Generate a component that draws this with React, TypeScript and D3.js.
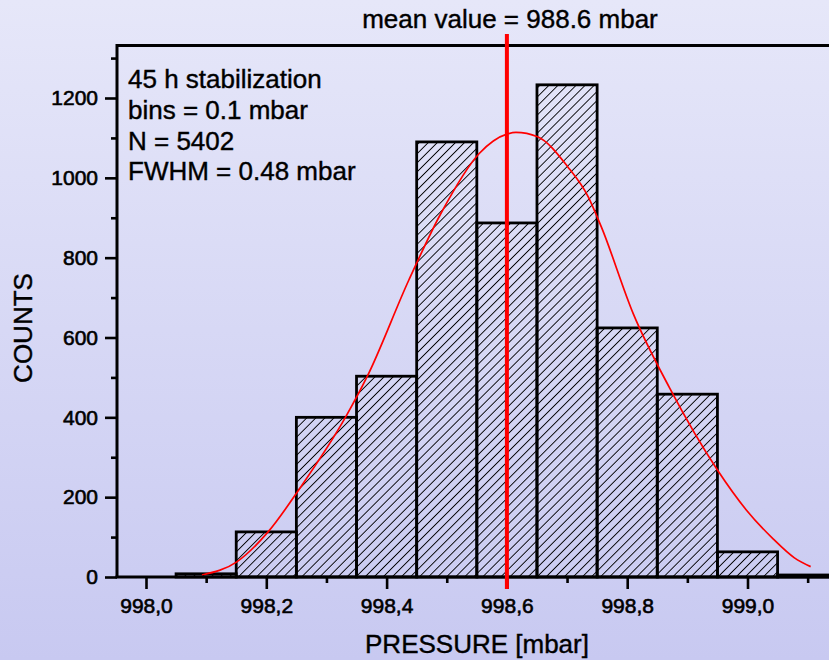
import * as d3 from 'd3';
import React, { useEffect, useRef } from 'react';

// histogram bins (centre of bin, mbar) and their counts
const binCenters = [998.1, 998.2, 998.3, 998.4, 998.5, 998.6, 998.7, 998.8, 998.9, 999.0, 999.1];
const binCounts = [8, 113, 400, 503, 1090, 887, 1233, 624, 458, 63, 5];
const binWidth = 0.1;

// fitted curve
const fitPressure = [998.093, 998.151, 998.203, 998.257, 998.332, 998.368, 998.437, 998.49, 998.554, 998.601,
  998.615, 998.651, 998.701, 998.735, 998.757, 998.81, 998.87, 998.95, 998.998, 999.043, 999.078, 999.105];
const fitCounts = [5, 38, 113, 225, 401, 503, 744, 910, 1061, 1110,
  1114, 1103, 1028, 953, 877, 660, 475, 268, 168, 95, 48, 26];

const meanValue = 998.6;

const xMajorTicks = [998.0, 998.2, 998.4, 998.6, 998.8, 999.0];
const xTickLabels = ['998,0', '998,2', '998,4', '998,6', '998,8', '999,0'];
const xMinorTicks = [998.1, 998.3, 998.5, 998.7, 998.9, 999.1];
const yMajorTicks = [0, 200, 400, 600, 800, 1000, 1200];
const yMinorTicks = [100, 300, 500, 700, 900, 1100, 1300];

const infoLines = ['45 h stabilization', 'bins = 0.1 mbar', 'N = 5402', 'FWHM = 0.48 mbar'];
const titleText = 'mean value = 988.6 mbar';

const FONT = '"Liberation Sans", Arial, sans-serif';

const App = () => {
  const ref = useRef<SVGSVGElement>(null);

  useEffect(() => {
    const width = 829, height = 660;
    const frame = { left: 117, top: 45.5, right: 845, bottom: 577 };

    const svg = d3.select(ref.current);
    svg.selectAll('*').remove();
    svg.attr('width', width).attr('height', height);

    const defs = svg.append('defs');
    const grad = defs.append('linearGradient')
      .attr('id', 'bg').attr('x1', 0).attr('y1', 0).attr('x2', 0).attr('y2', 1);
    grad.append('stop').attr('offset', '0%').attr('stop-color', '#e6e7f9');
    grad.append('stop').attr('offset', '100%').attr('stop-color', '#c8c9f1');

    const hatch = defs.append('pattern')
      .attr('id', 'hatch')
      .attr('patternUnits', 'userSpaceOnUse')
      .attr('width', 6.4).attr('height', 6.4)
      .attr('patternTransform', 'rotate(45)');
    hatch.append('line')
      .attr('x1', 0).attr('y1', 0).attr('x2', 0).attr('y2', 6.4)
      .attr('stroke', '#000').attr('stroke-width', 1.8);

    svg.append('rect')
      .attr('width', width).attr('height', height)
      .attr('fill', 'url(#bg)');

    const x = d3.scaleLinear().domain([998.0, 999.0]).range([146, 747.5]);
    const y = d3.scaleLinear().domain([0, 1200]).range([577, 98]);

    // bars
    svg.append('g')
      .selectAll('rect')
      .data(binCenters)
      .join('rect')
      .attr('x', d => x(d - binWidth / 2))
      .attr('y', (d, i) => y(binCounts[i]))
      .attr('width', x(998.0 + binWidth) - x(998.0))
      .attr('height', (d, i) => y(0) - y(binCounts[i]))
      .attr('fill', 'url(#hatch)')
      .attr('stroke', '#000')
      .attr('stroke-width', 2.8);

    // fit curve
    const line = d3.line<number>()
      .x(d => x(d))
      .y((d, i) => y(fitCounts[i]))
      .curve(d3.curveMonotoneX);
    svg.append('path')
      .attr('d', line(fitPressure))
      .attr('fill', 'none')
      .attr('stroke', '#ff0000')
      .attr('stroke-width', 1.7);

    // frame
    svg.append('path')
      .attr('d', `M${frame.left},${frame.bottom}V${frame.top}H${frame.right}`)
      .attr('fill', 'none').attr('stroke', '#000').attr('stroke-width', 3);
    svg.append('line')
      .attr('x1', frame.left - 1.5).attr('x2', frame.right)
      .attr('y1', frame.bottom).attr('y2', frame.bottom)
      .attr('stroke', '#000').attr('stroke-width', 3.2);

    // axes
    const styleAxis = (g: any) => {
      g.select('.domain').remove();
      g.selectAll('line').attr('stroke', '#000').attr('stroke-width', 2.6);
      g.attr('font-family', FONT).attr('font-size', 21);
      g.selectAll('text').attr('fill', '#000').attr('stroke', '#000').attr('stroke-width', 0.6);
    };

    svg.append('g')
      .attr('transform', `translate(0,${frame.bottom})`)
      .call(d3.axisBottom(x).tickValues(xMajorTicks).tickSize(12).tickPadding(9)
        .tickFormat((d, i) => xTickLabels[i]))
      .call(styleAxis);
    svg.append('g')
      .attr('transform', `translate(0,${frame.bottom})`)
      .call(d3.axisBottom(x).tickValues(xMinorTicks).tickSize(6).tickFormat(() => ''))
      .call(styleAxis);

    svg.append('g')
      .attr('transform', `translate(${frame.left},0)`)
      .call(d3.axisLeft(y).tickValues(yMajorTicks).tickSize(12).tickPadding(7)
        .tickFormat(d3.format('d')))
      .call(styleAxis);
    svg.append('g')
      .attr('transform', `translate(${frame.left},0)`)
      .call(d3.axisLeft(y).tickValues(yMinorTicks).tickSize(6).tickFormat(() => ''))
      .call(styleAxis);

    // mean line
    svg.append('line')
      .attr('x1', x(meanValue)).attr('x2', x(meanValue))
      .attr('y1', 34).attr('y2', 589)
      .attr('stroke', '#ff0000').attr('stroke-width', 4);

    // texts
    const bigText = (sel: any) => sel
      .attr('font-family', FONT).attr('font-size', 26)
      .attr('fill', '#000').attr('stroke', '#000').attr('stroke-width', 0.4);

    svg.append('text')
      .attr('x', 510).attr('y', 28)
      .attr('text-anchor', 'middle')
      .call(bigText)
      .text(titleText);

    svg.append('g')
      .selectAll('text')
      .data(infoLines)
      .join('text')
      .attr('x', 128)
      .attr('y', (d, i) => 88 + i * 30.8)
      .call(bigText)
      .text(d => d);

    svg.append('text')
      .attr('x', 477).attr('y', 653)
      .attr('text-anchor', 'middle')
      .call(bigText)
      .text('PRESSURE [mbar]');

    svg.append('text')
      .attr('transform', 'translate(32,328) rotate(-90)')
      .attr('text-anchor', 'middle')
      .call(bigText)
      .text('COUNTS');
  }, []);

  return <svg ref={ref} style={{ position: 'absolute', left: 0, top: 0, display: 'block' }}></svg>;
};

export default App;
